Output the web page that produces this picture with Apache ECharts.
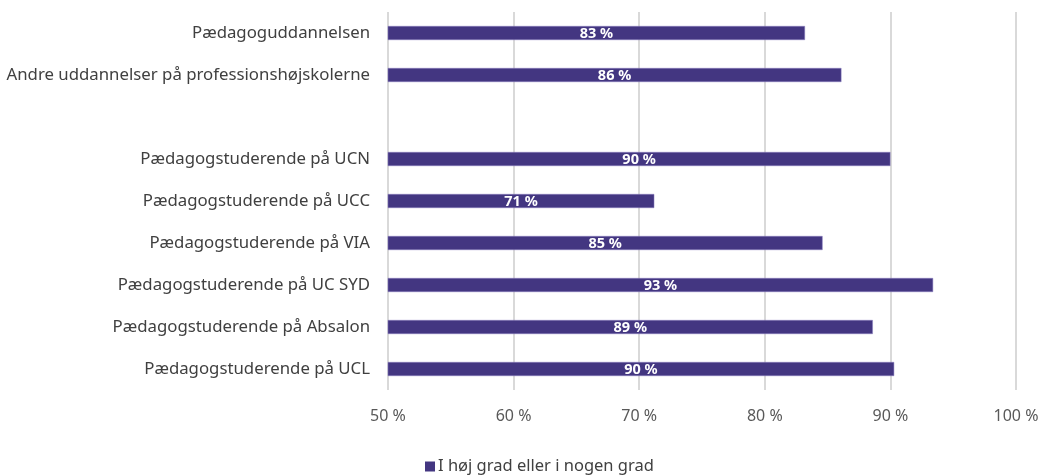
<!DOCTYPE html>
<html>
<head>
<meta charset="utf-8">
<script src="https://cdn.jsdelivr.net/npm/echarts@6/dist/echarts.min.js"></script>
<style>
  html, body { margin: 0; padding: 0; background: #fff; }
  #chart { width: 1042px; height: 475px; }
</style>
</head>
<body>
<div id="chart"></div>
<script>
// kategorier (tom række giver mellemrum)
var categories = [
  "Pædagoguddannelsen",
  "Andre uddannelser på professionshøjskolerne",
  "",
  "Pædagogstuderende på UCN",
  "Pædagogstuderende på UCC",
  "Pædagogstuderende på VIA",
  "Pædagogstuderende på UC SYD",
  "Pædagogstuderende på Absalon",
  "Pædagogstuderende på UCL"
];
var values = [83.2, 86.1, null, 90.0, 71.2, 84.6, 93.4, 88.6, 90.3];
var seriesName = "I høj grad eller i nogen grad";
var xTicks = [50, 60, 70, 80, 90, 100];

var chart = echarts.init(document.getElementById("chart"));
chart.setOption({
  animation: false,
  grid: { left: 388, right: 26, top: 12, bottom: 85 },
  legend: {
    top: 453,
    left: 420,
    itemWidth: 10,
    itemHeight: 10,
    itemGap: 4,
    itemStyle: { borderWidth: 0 },
    textStyle: { color: "#404040", fontSize: 16.5, fontFamily: "Noto Sans", padding: [0, 0, 0, -2] },
    data: [{ name: seriesName, icon: "rect" }]
  },
  xAxis: {
    type: "value",
    min: xTicks[0],
    max: xTicks[xTicks.length - 1],
    interval: 10,
    axisLine: { show: false },
    axisTick: { show: false },
    splitLine: { lineStyle: { color: "#d9d9d9", width: 2 } },
    axisLabel: {
      color: "#595959",
      fontSize: 16,
      fontFamily: "Noto Sans",
      margin: 18,
      formatter: function (v) { return v + " %"; }
    }
  },
  yAxis: {
    type: "category",
    inverse: true,
    data: categories,
    axisLine: { show: false },
    axisTick: { show: false },
    axisLabel: {
      color: "#404040",
      fontSize: 16.8,
      fontFamily: "Noto Sans",
      margin: 18
    }
  },
  series: [
    {
      name: seriesName,
      type: "bar",
      data: values,
      barWidth: 14,
      itemStyle: { color: "#433681", borderColor: "#8a7fc0", borderWidth: 0.5 },
      label: {
        show: true,
        position: "inside",
        color: "#fff",
        fontSize: 14.5,
        fontWeight: "bold",
        fontFamily: "Noto Sans",
        offset: [0, 1],
        formatter: function (p) { return Math.round(p.value) + " %"; }
      }
    }
  ]
});
</script>
</body>
</html>
